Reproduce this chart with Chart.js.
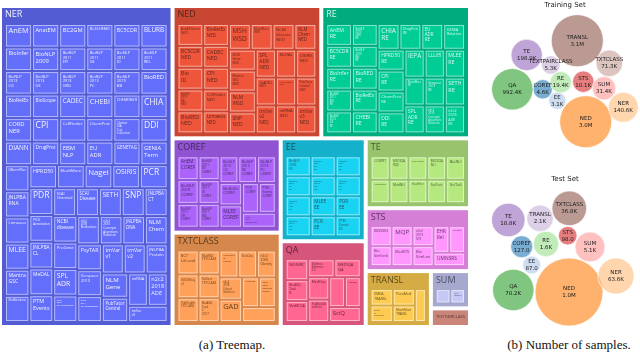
<!DOCTYPE html>
<html><head><meta charset="utf-8">
<script src="https://cdn.jsdelivr.net/npm/chart.js@4.4.1/dist/chart.umd.min.js"></script>
<style>
html,body{margin:0;padding:0;background:#fff;}
body{width:640px;height:354px;position:relative;overflow:hidden;}
#tm{position:absolute;left:0;top:6px;}
#bub{position:absolute;left:470px;top:0;}
.ttl{position:absolute;font-family:"DejaVu Sans",sans-serif;font-size:7px;color:#222;transform:translate(-50%,-50%);white-space:nowrap;}
.cap{position:absolute;font-family:"Liberation Serif","Times New Roman",serif;font-size:13px;color:#111;transform:translate(-50%,-50%);white-space:nowrap;}
</style></head>
<body>
<canvas id="tm" width="470" height="321"></canvas>
<canvas id="bub" width="170" height="335"></canvas>
<div class="ttl" style="left:565px;top:5px">Training Set</div>
<div class="ttl" style="left:565px;top:179px">Test Set</div>
<div class="cap" style="left:232px;top:345px">(a) Treemap.</div>
<div class="cap" style="left:569px;top:345px">(b) Number of samples.</div>
<script>
// ---------------- DATA ----------------
const taskNames = ['NER','NED','RE','COREF','TXTCLASS','EE','QA','TE','STS','TRANSL','SUM','TEXTPAIRCLASS'];
const nerSets = ['AnEM','AnatEM','BC2GM','BC4CHEMD','BC5CDR','BLURB',
 'BioInfer','BioNLP 2009','BioNLP 2011 EPI','BioNLP 2011 GE','BioNLP 2011 ID','BioNLP 2011 REL',
 'BioNLP 2013 CG','BioNLP 2013 GE','BioNLP 2013 GRO','BioNLP 2013 PC','BioNLP 2019 BB','BioRED',
 'BioRelEx','BioScope','CADEC','CHEBI','CHEMDNER','CHIA',
 'CORD NER','CPI','CellFinder','ChemProt','Citation GIA Test Collection','DDI',
 'DIANN','DrugProt','EBM NLP','EU ADR','GENETAG','GENIA Term',
 'GNormPlus','JNLPBA RNA','Linnaeus','MLEE','Mantra GSC','MedMentions',
 'HPRD50','MuchMore','Nagel','OSIRIS','PCR','PDR','PICO Annotation',
 'JNLPBA CL','MeDAL','PTM Events','SCAI Chemical','SCAI Disease','SETH','SNP',
 'JNLPBA CT','NCBI disease','ProGene','SPL ADR','n2c2 2006 De-identification','n2c2 2009 Medications','n2c2 2010 Concepts Assertions Relations',
 'JNLPBA DNA','NLM Chem','PsyTAR','Verspoor 2013','n2c2 2014 De-identification','tmVar v1','tmVar v2',
 'JNLPBA Protein','NLM Gene','PubTator Central','miRNA','n2c2 2018 ADE','tmVar v3'];
const nedSets = ['AskAPatient NED','BC5CDR NED','Bio ID','BioNLP 2019 BB NED','BioRED NED','BioRelEx NED','CADEC NED','CPI NED','CellFinder NED','Linnaeus NED','MSH WSD','MuchMore NED','NCBI disease NED','NLM Chem NED','NLM Gene NED','Mantra GSC NED','NLM WSD','SNP NED','SPL ADR NED','MeDAL','OSIRIS NED','TwADR-L NED','tmVar v2 NED','MedMentions NED','PubTator Central NED','miRNA NED','tmVar v3 NED'];
const reSets = ['AnEM RE','BC5CDR RE','BioInfer RE','BioNLP 2011 REL RE','BioNLP 2013 GE RE','BioNLP 2013 GRO RE','BioNLP 2019 BB RE','BioRED RE','BioRelEx RE','CHEBI RE','CHIA RE','DrugProt RE','EU ADR RE','GENIA Relation','HPRD50 RE','CPI RE','ChemProt RE','DDI RE','IEPA','LLL05','MLEE RE','MuchMore RE','SPL ADR RE','Verspoor 2013 RE','SETH RE','n2c2 2010 Concepts Assertions Relations','n2c2 2018 ADE RE'];
const corefSets = ['AnEM COREF','BioNLP 2009 COREF','BioNLP 2011 EPI COREF','BioNLP 2011 GE COREF','BioNLP 2011 ID COREF','BioNLP 2011 REL COREF','BioNLP 2013 CG COREF','BioNLP 2013 GE COREF','BioNLP 2013 PC COREF','BioRelEx COREF','MLEE COREF','PDR COREF','PTM Events COREF','n2c2 2011 Coreference'];
const txtclassSets = ['BC7 LitCovid','GEOKhoj v1','PubHealth TXTCLASS','MedNLI TXTCLASS','SciFact TXTCLASS','BioASQ Task C 2017','Hallmarks of Cancer','SciCite','n2c2 2008 Obesity','n2c2 2018 Cohort Selection','GAD','MedDialog','n2c2 2006 Smoking Status','n2c2 2014 Risk Factors'];
const eeSets = ['BioNLP 2009 EE','BioNLP 2011 EPI EE','BioNLP 2011 GE EE','BioNLP 2011 ID EE','BioNLP 2011 REL EE','BioNLP 2013 CG EE','BioNLP 2013 GE EE','BioNLP 2013 PC EE','MLEE EE','PCR EE','PDR EE','PTM Events EE'];
const qaSets = ['BiOMRC','BioASQ Task B','MedMCQA','Evidence Inference 2.0','MEDIQA QA','MedHop','PubMedQA artificial','PubMedQA labeled','MedQA','SciQ'];
const teSets = ['COVERT','ManConCorp','MEDIQA RQE','MedNLI','PubHealth','HealthVer','MEDIQA NLI','BioNLI','SciFact','SciTail'];
const stsSets = ['BIOSSES','Bio SimVerb','MQP','MedSTS','n2c2 2019 STS','Bio SimLex','EHR Rel','MayoSRS','UMNSRS'];
const translSets = ['EMEA TRANSL','ECDC v1 ParaMed','ParaMed','MuchMore TRANSL','SciELO'];
const sumSets = ['MeQSum','Multi XScience'];
const tpcSets = ['PubHealth TPC'];
const taskDatasets = [nerSets,nedSets,reSets,corefSets,txtclassSets,eeSets,qaSets,teSets,stsSets,translSets,sumSets,tpcSets];
const taskColors = ['#636EFA','#EF553B','#00CC96','#AB63FA','#FFA15A','#19D3F3','#FF6692','#B6E880','#FF97FF','#FECB52','#C6C8F5','#F09E92'];
const taskTextColors = ['rgba(255,255,255,0.92)','rgba(60,30,25,0.85)','rgba(255,255,255,0.85)','rgba(55,35,70,0.85)','rgba(70,45,20,0.85)','rgba(30,60,70,0.85)','rgba(70,25,35,0.85)','rgba(55,70,35,0.85)','rgba(75,40,75,0.85)','rgba(70,55,20,0.85)','rgba(60,60,80,0.85)','rgba(70,40,35,0.85)'];

// Bubble charts: sample counts (labels) and packed positions
const trainTasks  = ['COREF','EE','NED','NER','QA','RE','STS','SUM','TE','TEXTPAIRCLASS','TRANSL','TXTCLASS'];
const trainCounts = ['4.6K','3.1K','3.0M','140.6K','992.4K','19.4K','10.1K','31.4K','198.9K','5.3K','3.1M','71.3K'];
const trainX = [72.7, 87.3, 115.7, 153.3, 42.3, 90.7, 113.3, 134, 56.7, 80.7, 107.3, 139.3];
const trainY = [89.3, 100.7, 121.7, 107.3, 89.3, 82.3, 81.7, 88.3, 55, 65, 40.7, 63.3];
const trainR = [9.7, 8.7, 26, 15, 20.7, 10.7, 10.7, 11.7, 15.7, 9.3, 26, 13.3];
const trainColors = ['#1f77b4','#aec7e8','#ff7f0e','#ffbb78','#2ca02c','#98df8a','#d62728','#ff9896','#9467bd','#c5b0d5','#8c564b','#c49c94'];

const testTasks  = ['COREF','EE','NED','NER','QA','RE','STS','SUM','TE','TRANSL','TXTCLASS'];
const testCounts = ['127.0','87.0','1.0M','63.6K','70.2K','1.6K','98.0','5.1K','18.8K','2.1K','36.8K'];
const testX = [51.7, 61.7, 99, 146, 43.3, 76, 97.7, 120, 38.3, 70, 99.3];
const testY = [246.7, 265, 292, 276, 290, 244, 235.7, 247, 220, 218.3, 208.3];
const testR = [11, 9, 34, 18, 20.7, 12.7, 9.3, 15, 16.7, 13.3, 17.3];
const testColors = ['#1f77b4','#aec7e8','#ff7f0e','#ffbb78','#2ca02c','#98df8a','#d62728','#ff9896','#9467bd','#c5b0d5','#8c564b'];

// ---------------- HELPERS ----------------
const TW = 470, TH = 321;
function squarify(items, x0, y0, x1, y1){
  const out = [];
  let value = items.reduce((s,d)=>s+d.value,0);
  let i0 = 0, i1 = 0; const n = items.length;
  while (i0 < n){
    const dx = x1-x0, dy = y1-y0;
    let sum = items[i1++].value, minV = sum, maxV = sum;
    const alpha = Math.max(dy/dx, dx/dy)/value;
    let beta = sum*sum*alpha;
    let minRatio = Math.max(maxV/beta, beta/minV);
    for (; i1 < n; ++i1){
      const v = items[i1].value; sum += v;
      if (v < minV) minV = v; if (v > maxV) maxV = v;
      beta = sum*sum*alpha;
      const nr = Math.max(maxV/beta, beta/minV);
      if (nr > minRatio){ sum -= v; break; }
      minRatio = nr;
    }
    const row = items.slice(i0, i1);
    if (dx < dy){
      const yb = value ? y0 + dy*sum/value : y1;
      let x = x0; const k = dx/sum;
      row.forEach(d=>{ const nx = x + d.value*k; out.push({d, x0:x, y0:y0, x1:nx, y1:yb}); x = nx; });
      y0 = yb;
    } else {
      const xb = value ? x0 + dx*sum/value : x1;
      let y = y0; const k = dy/sum;
      row.forEach(d=>{ const ny = y + d.value*k; out.push({d, x0:x0, y0:y, x1:xb, y1:ny}); y = ny; });
      x0 = xb;
    }
    value -= sum; i0 = i1;
  }
  return out;
}
function shade(hex, f){
  const n = parseInt(hex.slice(1),16);
  const r = Math.round(((n>>16)&255)*f), g = Math.round(((n>>8)&255)*f), b = Math.round((n&255)*f);
  return `rgb(${r},${g},${b})`;
}
function rgba(hex, a){
  const n = parseInt(hex.slice(1),16);
  return `rgba(${(n>>16)&255},${(n>>8)&255},${n&255},${a})`;
}
const FONT = '"Open Sans","DejaVu Sans",Arial,sans-serif';

const treemapPlugin = {
  id: 'treemap',
  afterDraw(chart){
    const ctx = chart.ctx, xs = chart.scales.x, ys = chart.scales.y;
    const P = r => ({x0: xs.getPixelForValue(r.x0), x1: xs.getPixelForValue(r.x1), y0: ys.getPixelForValue(r.y0), y1: ys.getPixelForValue(r.y1)});
    const groups = taskNames.map((t,i)=>({name:t, idx:i, items:taskDatasets[i], value:taskDatasets[i].length}));
    groups.sort((a,b)=>b.value-a.value);
    const top = squarify(groups, 0, 0, TW, TH);
    ctx.save();
    ctx.textBaseline = 'top';
    top.forEach(t=>{
      const g = t.d, col = taskColors[g.idx], tcol = taskTextColors[g.idx];
      const gr = {x0:t.x0+2, y0:t.y0+2, x1:t.x1-2, y1:t.y1-2};
      const p = P(gr);
      ctx.fillStyle = shade(col, 0.84);
      ctx.fillRect(p.x0, p.y0, p.x1-p.x0, p.y1-p.y0);
      const hasKids = (gr.y1-3) - (gr.y0+16) > 6;
      ctx.font = `10px ${FONT}`;
      const w1 = ctx.measureText(g.name).width/10;
      const hf = Math.min(9, (p.x1-p.x0-6)/w1);
      ctx.font = `${hf}px ${FONT}`;
      ctx.fillStyle = tcol;
      const hy = hasKids ? p.y0 + 8 - hf*0.62 : (p.y0+p.y1)/2 - hf*0.6;
      ctx.fillText(g.name, p.x0+3, hy);
      if (!hasKids) return;
      const kids = g.items.map(n=>({name:n, value:1}));
      const cells = squarify(kids, gr.x0+3, gr.y0+16, gr.x1-3, gr.y1-3);
      cells.forEach(c=>{
        const q = P({x0:c.x0+1, y0:c.y0+1, x1:c.x1-1, y1:c.y1-1});
        const cw = q.x1-q.x0, ch = q.y1-q.y0;
        ctx.fillStyle = col;
        ctx.fillRect(q.x0, q.y0, cw, ch);
        ctx.strokeStyle = 'rgba(255,255,255,0.5)';
        ctx.lineWidth = 1;
        ctx.strokeRect(q.x0+0.5, q.y0+0.5, cw-1, ch-1);
        const lines = c.d.name.split(' ');
        ctx.font = `10px ${FONT}`;
        const mw = Math.max(...lines.map(l=>ctx.measureText(l).width))/10;
        const fs = Math.min(8.5, (cw-5)/mw, (ch-4)/(lines.length*1.5));
        if (fs < 1.8) return;
        ctx.font = `${fs}px ${FONT}`;
        ctx.fillStyle = tcol;
        lines.forEach((l,k)=> ctx.fillText(l, q.x0+2.5, q.y0+2.5 + k*fs*1.2));
      });
    });
    ctx.restore();
  }
};

new Chart(document.getElementById('tm'), {
  type: 'scatter',
  data: { datasets: [{ data: [] }] },
  options: {
    responsive: false, animation: false, events: [],
    layout: { padding: 0, autoPadding: false },
    plugins: { legend: {display:false}, tooltip: {enabled:false} },
    scales: {
      x: { type:'linear', min:0, max:TW, display:false },
      y: { type:'linear', min:0, max:TH, reverse:true, display:false }
    }
  },
  plugins: [treemapPlugin]
});

const bubbleLabels = {
  id: 'bubbleLabels',
  afterDatasetsDraw(chart){
    const ctx = chart.ctx;
    ctx.save();
    ctx.textAlign = 'center'; ctx.textBaseline = 'middle';
    ctx.fillStyle = '#1a1a1a';
    ctx.font = '5.5px "DejaVu Sans", sans-serif';
    chart.data.datasets.forEach((ds, di)=>{
      chart.getDatasetMeta(di).data.forEach((el, i)=>{
        ctx.fillText(ds.names[i], el.x, el.y - 3.4);
        ctx.fillText(ds.counts[i], el.x, el.y + 3.4);
      });
    });
    ctx.restore();
  }
};

new Chart(document.getElementById('bub'), {
  type: 'bubble',
  data: {
    datasets: [
      { names: trainTasks, counts: trainCounts,
        data: trainTasks.map((t,i)=>({x:trainX[i], y:trainY[i], r:trainR[i]})),
        backgroundColor: trainColors.map(c=>rgba(c,0.6)), borderColor: 'rgba(255,255,255,0.8)', borderWidth: 0.8, clip: false },
      { names: testTasks, counts: testCounts,
        data: testTasks.map((t,i)=>({x:testX[i], y:testY[i], r:testR[i]})),
        backgroundColor: testColors.map(c=>rgba(c,0.6)), borderColor: 'rgba(255,255,255,0.8)', borderWidth: 0.8, clip: false }
    ]
  },
  options: {
    responsive: false, animation: false, events: [],
    layout: { padding: 0, autoPadding: false },
    plugins: { legend: {display:false}, tooltip: {enabled:false} },
    scales: {
      x: { type:'linear', min:0, max:170, display:false },
      y: { type:'linear', min:0, max:335, reverse:true, display:false }
    }
  },
  plugins: [bubbleLabels]
});
</script>
</body></html>
